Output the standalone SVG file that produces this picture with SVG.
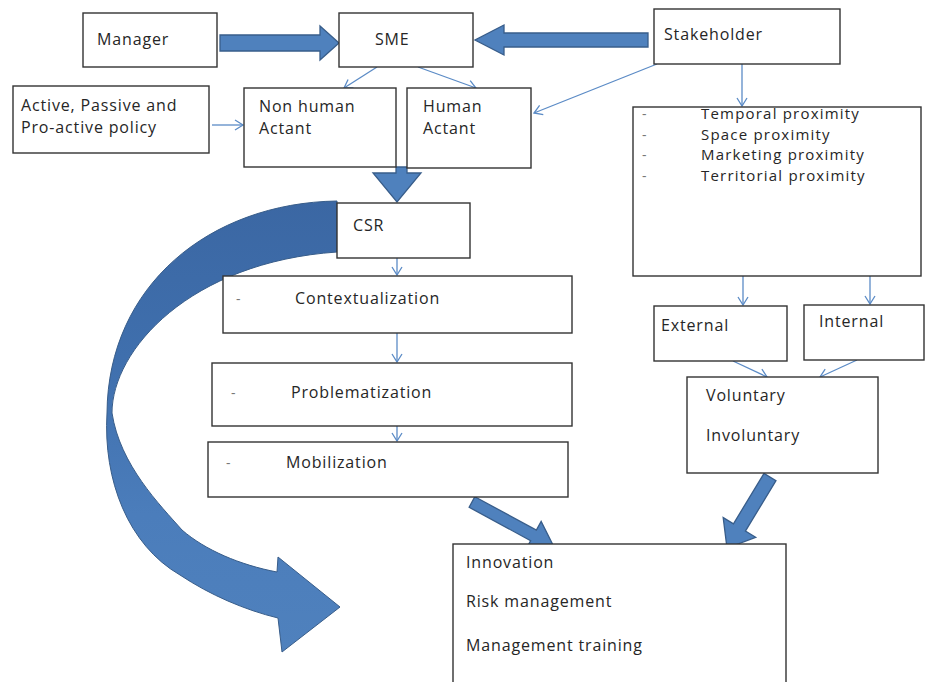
<svg xmlns="http://www.w3.org/2000/svg" width="925" height="682" viewBox="0 0 925 682">
  <defs>
    <style>
      .box { fill: #ffffff; stroke: #333333; stroke-width: 1.4; }
      .t { font-family: "Open Sans", "Noto Sans", "Liberation Sans", sans-serif; font-size: 16px; letter-spacing: 0.85px; fill: #262626; }
      .ts { font-family: "Open Sans", "Noto Sans", "Liberation Sans", sans-serif; font-size: 15px; letter-spacing: 1.2px; fill: #262626; }
      .dash { font-family: "Open Sans", "Liberation Sans", sans-serif; font-size: 14px; fill: #777777; }
      .thin { stroke: #5b8bc6; stroke-width: 1.3; fill: none; marker-end: url(#open); }
      .block { fill: #4f81bd; stroke: #385d8a; stroke-width: 1.3; stroke-linejoin: miter; }
    </style>
    <marker id="open" markerUnits="userSpaceOnUse" markerWidth="12" markerHeight="14" refX="9" refY="6" orient="auto">
      <path d="M1,1 L9,6 L1,11" fill="none" stroke="#5b8bc6" stroke-width="1.3"/>
    </marker>
    <linearGradient id="curveGrad" gradientUnits="userSpaceOnUse" x1="0" y1="200" x2="0" y2="650">
      <stop offset="0" stop-color="#3b67a3"/>
      <stop offset="0.35" stop-color="#3f6fad"/>
      <stop offset="0.7" stop-color="#4b7dbb"/>
      <stop offset="1" stop-color="#4f81bd"/>
    </linearGradient>
  </defs>

  <rect width="925" height="682" fill="#ffffff"/>

  <g id="connectors">
    <!-- big curved arrow (behind boxes) -->
    <path d="M337,201 C210,203 108,285 107,413 C103,480 128,545 180,575 C210,595 245,610 278,618 L282,652 L340,607 L278,557 L277,572 C240,565 205,550 182,530 C160,505 120,465 112,413 C112,350 190,262 337,252 Z" fill="url(#curveGrad)" stroke="#385d8a" stroke-width="1"/>

    <!-- Manager -> SME -->
    <polygon class="block" points="220,35 320,35 320,26 339,43 320,60 320,51 220,51"/>
    <!-- Stakeholder -> SME -->
    <polygon class="block" points="648,33 504,33 504,25 475,40 504,55 504,47 648,47"/>
    <!-- Actants -> CSR -->
    <polygon class="block" points="396,167 407,167 407,173 421,173 397,202 373,173 396,173"/>
    <!-- Mobilization -> Innovation -->
    <g transform="translate(472,502) rotate(28.5)">
      <polygon class="block" points="0,-6 70,-6 70,-16 93,0 70,16 70,6 0,6"/>
    </g>
    <!-- Voluntary -> Innovation -->
    <g transform="translate(770,477) rotate(121.2)">
      <polygon class="block" points="0,-7 59,-7 59,-19 83,0 59,19 59,7 0,7"/>
    </g>

    <!-- thin connectors -->
    <line class="thin" x1="377" y1="67" x2="344" y2="88"/>
    <line class="thin" x1="418" y1="67" x2="476" y2="88"/>
    <line class="thin" x1="657" y1="64" x2="534" y2="113"/>
    <line class="thin" x1="742" y1="64" x2="742" y2="106"/>
    <line class="thin" x1="212" y1="125" x2="243" y2="125"/>
    <line class="thin" x1="397" y1="258" x2="397" y2="275"/>
    <line class="thin" x1="397" y1="333" x2="397" y2="362"/>
    <line class="thin" x1="397" y1="426" x2="397" y2="441"/>
    <line class="thin" x1="743" y1="276" x2="743" y2="305"/>
    <line class="thin" x1="870" y1="276" x2="870" y2="304"/>
    <line class="thin" x1="733" y1="361" x2="767" y2="377"/>
    <line class="thin" x1="857" y1="360" x2="820" y2="377"/>
  </g>

  <g id="manager">
    <rect class="box" x="83" y="13" width="134" height="54"/>
    <text class="t" x="97" y="45">Manager</text>
  </g>
  <g id="sme">
    <rect class="box" x="339" y="13" width="134" height="54"/>
    <text class="t" x="375" y="45">SME</text>
  </g>
  <g id="stakeholder">
    <rect class="box" x="654" y="9" width="186" height="55"/>
    <text class="t" x="664" y="40">Stakeholder</text>
  </g>
  <g id="policy">
    <rect class="box" x="13" y="86" width="196" height="67"/>
    <text class="t" x="21" y="111">Active, Passive and</text>
    <text class="t" x="21" y="133">Pro-active policy</text>
  </g>
  <g id="nonhuman">
    <rect class="box" x="244" y="88" width="152" height="79"/>
    <text class="t" x="259" y="112">Non human</text>
    <text class="t" x="259" y="134">Actant</text>
  </g>
  <g id="human">
    <rect class="box" x="407" y="88" width="124" height="80"/>
    <text class="t" x="423" y="112">Human</text>
    <text class="t" x="423" y="134">Actant</text>
  </g>
  <g id="proximity">
    <rect class="box" x="633" y="107" width="288" height="169"/>
    <text class="dash" x="642" y="119">-</text>
    <text class="ts" x="701" y="119">Temporal proximity</text>
    <text class="dash" x="642" y="139.5">-</text>
    <text class="ts" x="701" y="139.5">Space proximity</text>
    <text class="dash" x="642" y="160">-</text>
    <text class="ts" x="701" y="160">Marketing proximity</text>
    <text class="dash" x="642" y="180.5">-</text>
    <text class="ts" x="701" y="180.5">Territorial proximity</text>
  </g>
  <g id="csr">
    <rect class="box" x="337" y="203" width="133" height="55"/>
    <text class="t" x="353" y="231">CSR</text>
  </g>
  <g id="contextualization">
    <rect class="box" x="223" y="276" width="349" height="57"/>
    <text class="dash" x="236" y="304">-</text>
    <text class="t" x="295" y="304">Contextualization</text>
  </g>
  <g id="problematization">
    <rect class="box" x="212" y="363" width="360" height="63"/>
    <text class="dash" x="231" y="398">-</text>
    <text class="t" x="291" y="398">Problematization</text>
  </g>
  <g id="mobilization">
    <rect class="box" x="208" y="442" width="360" height="55"/>
    <text class="dash" x="226" y="468">-</text>
    <text class="t" x="286" y="468">Mobilization</text>
  </g>
  <g id="external">
    <rect class="box" x="654" y="306" width="133" height="55"/>
    <text class="t" x="661" y="331">External</text>
  </g>
  <g id="internal">
    <rect class="box" x="804" y="305" width="120" height="55"/>
    <text class="t" x="819" y="327">Internal</text>
  </g>
  <g id="voluntary">
    <rect class="box" x="687" y="377" width="191" height="96"/>
    <text class="t" x="706" y="401">Voluntary</text>
    <text class="t" x="706" y="441">Involuntary</text>
  </g>
  <g id="outcomes">
    <rect class="box" x="453" y="544" width="333" height="150"/>
    <text class="t" x="466" y="568">Innovation</text>
    <text class="t" x="466" y="607">Risk management</text>
    <text class="t" x="466" y="651">Management training</text>
  </g>
</svg>
